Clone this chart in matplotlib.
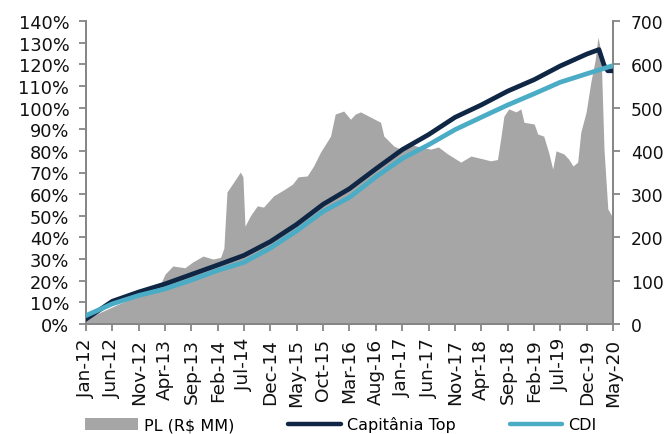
import matplotlib
matplotlib.use("Agg")
import matplotlib.pyplot as plt
import matplotlib.dates as mdates
from matplotlib.patches import Patch
from matplotlib.lines import Line2D
from matplotlib.ticker import FuncFormatter, MultipleLocator
import pandas as pd

# ---- data ----
pl_dates = ["2012-01-01", "2012-07-01", "2013-01-01", "2013-03-04", "2013-04-01", "2013-05-16",
            "2013-07-25", "2013-09-07", "2013-11-07", "2014-01-04", "2014-02-16", "2014-03-07",
            "2014-03-25", "2014-04-28", "2014-06-10", "2014-06-25", "2014-07-07", "2014-08-07",
            "2014-09-16", "2014-10-22", "2014-12-19", "2015-02-16", "2015-04-07", "2015-05-10",
            "2015-07-01", "2015-08-07", "2015-09-16", "2015-11-13", "2015-12-10", "2016-01-28",
            "2016-03-07", "2016-04-04", "2016-05-04", "2016-07-01", "2016-08-28", "2016-09-16",
            "2016-11-13", "2016-12-22", "2017-02-07", "2017-04-04", "2017-06-13", "2017-07-28",
            "2017-09-19", "2017-12-04", "2018-02-01", "2018-04-16", "2018-05-25", "2018-07-04",
            "2018-07-22", "2018-08-10", "2018-09-07", "2018-10-19", "2018-11-16", "2018-12-04",
            "2019-02-01", "2019-02-21", "2019-03-28", "2019-04-25", "2019-05-19", "2019-06-07",
            "2019-07-22", "2019-08-19", "2019-09-13", "2019-10-10", "2019-10-28", "2019-11-28",
            "2019-12-25", "2020-01-19", "2020-02-04", "2020-02-22", "2020-03-10", "2020-04-01",
            "2020-05-01"]
pl_values = [12, 45, 75, 90, 115, 134,
             130, 143, 157, 150, 154, 175,
             305, 325, 351, 340, 226, 250,
             273, 270, 296, 310, 323, 340,
             342, 365, 397, 434, 485, 492,
             473, 485, 490, 478, 466, 434,
             411, 404, 416, 410, 404, 409,
             393, 374, 388, 381, 377, 380,
             427, 480, 497, 490, 497, 466,
             462, 439, 434, 397, 358, 400,
             393, 381, 365, 374, 443, 490,
             559, 610, 663, 628, 404, 266,
             245]

top_dates = ["2012-01-01", "2012-06-01", "2012-11-01", "2013-04-01", "2013-09-01", "2014-02-01",
             "2014-07-01", "2014-12-01", "2015-05-01", "2015-10-01", "2016-03-01", "2016-08-01",
             "2017-01-01", "2017-06-01", "2017-11-01", "2018-04-01", "2018-09-01", "2019-02-01",
             "2019-07-01", "2019-12-01", "2020-02-10", "2020-03-10", "2020-04-01", "2020-05-01"]
top_values = [2.3, 10.5, 14.8, 18.5, 22.9, 27.3,
              31.7, 38.1, 46.0, 55.3, 62.5, 71.7,
              80.6, 87.5, 95.5, 101.2, 107.6, 112.9,
              119.2, 124.7, 126.8, 119.7, 117.0, 117.0]

cdi_dates = ["2012-01-01", "2012-06-01", "2012-11-01", "2013-04-01", "2013-09-01", "2014-02-01",
             "2014-07-01", "2014-12-01", "2015-05-01", "2015-10-01", "2016-03-01", "2016-08-01",
             "2017-01-01", "2017-06-01", "2017-11-01", "2018-04-01", "2018-09-01", "2019-02-01",
             "2019-07-01", "2019-12-01", "2020-05-01"]
cdi_values = [3.9, 9.3, 13.2, 16.2, 20.3, 24.8,
              28.5, 35.1, 43.0, 52.0, 58.5, 68.0,
              76.5, 82.8, 89.8, 95.5, 101.2, 106.4,
              111.7, 115.6, 119.4]

tick_dates = pd.date_range("2012-01-01", "2020-05-01", freq="5MS")

labels = ["PL (R$ MM)", "Capitânia Top", "CDI"]
c_pl = "#A6A6A6"
c_top = "#0F2744"
c_cdi = "#4BACC6"
c_axis = "#868686"

plt.rcParams["font.family"] = ["DejaVu Sans"]
fig = plt.figure(figsize=(6.68, 4.35), dpi=100)
ax_pl = fig.add_axes([86 / 668, 1 - 325 / 435, (613 - 86) / 668, (325 - 22) / 435])
ax = ax_pl.twinx()

pl_x = pd.to_datetime(pl_dates)
ax_pl.fill_between(pl_x, 0, pl_values, color=c_pl, linewidth=0, zorder=1)
ax_pl.set_ylim(0, 700)
ax_pl.yaxis.set_major_locator(MultipleLocator(100))
ax_pl.yaxis.tick_right()
ax_pl.yaxis.set_label_position("right")

ax.plot(pd.to_datetime(top_dates), top_values, color=c_top, lw=3.4, solid_joinstyle="round", zorder=3)
ax.plot(pd.to_datetime(cdi_dates), cdi_values, color=c_cdi, lw=3.4, solid_joinstyle="round", zorder=4)
ax.set_ylim(0, 140)
ax.yaxis.set_major_locator(MultipleLocator(10))
ax.yaxis.set_major_formatter(FuncFormatter(lambda v, p: f"{v:.0f}%"))
ax.yaxis.tick_left()
ax.yaxis.set_label_position("left")

xmin, xmax = pd.Timestamp("2012-01-01"), pd.Timestamp("2020-05-01")
ax_pl.set_xlim(xmin, xmax)
ax_pl.set_xticks(tick_dates)
ax_pl.xaxis.set_major_formatter(mdates.DateFormatter("%b-%y"))

for a in (ax_pl, ax):
    a.spines["top"].set_visible(False)
    for s in ("left", "right", "bottom"):
        a.spines[s].set_color(c_axis)
        a.spines[s].set_linewidth(1.3)
    a.tick_params(axis="both", colors=c_axis, labelcolor="#111111",
                  length=5, width=1.3, direction="out")
ax.tick_params(axis="y", pad=7, labelsize=12.8)
ax_pl.tick_params(axis="y", pad=8, labelsize=12.3)
ax_pl.tick_params(axis="x", pad=5, labelrotation=90, labelsize=13.3)
ax.tick_params(axis="x", bottom=False, labelbottom=False)

handles = [Patch(facecolor=c_pl, edgecolor="none"),
           Line2D([], [], color=c_top, lw=3.2, solid_capstyle="round"),
           Line2D([], [], color=c_cdi, lw=3.2, solid_capstyle="round")]
fig.legend(handles, labels, loc="center", bbox_to_anchor=(0.51, 0.022), ncol=3, frameon=False,
           fontsize=11.5, handlelength=3.3, handleheight=0.8, handletextpad=0.35,
           columnspacing=3.4, borderaxespad=0)

fig.savefig("out.png", dpi=100)
